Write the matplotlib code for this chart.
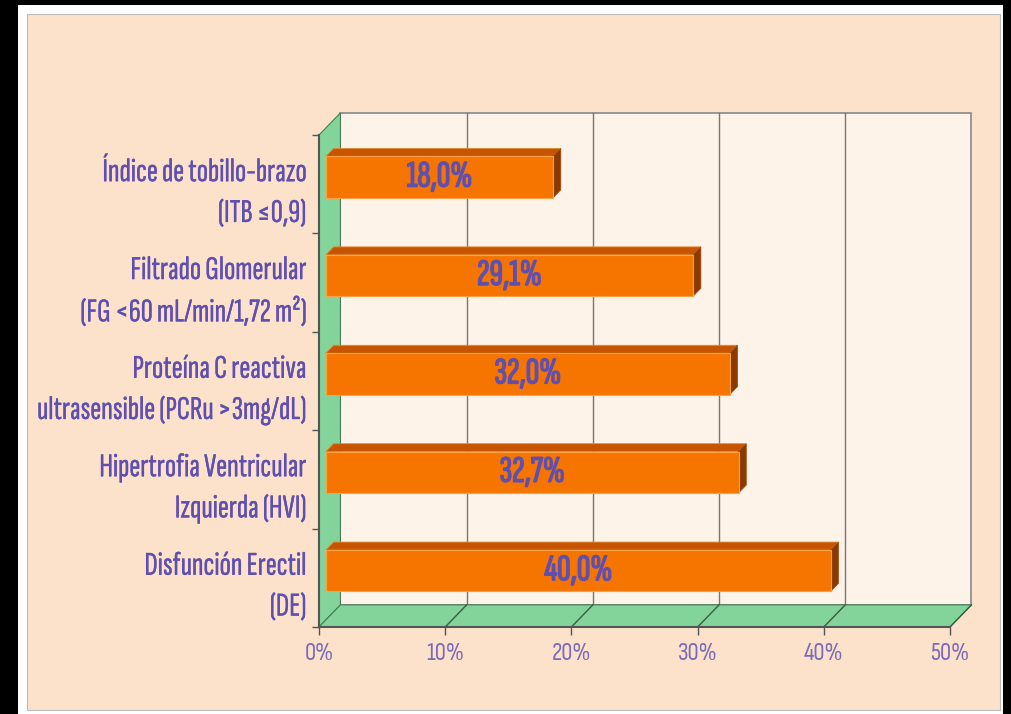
import matplotlib.pyplot as plt
import matplotlib.patheffects as pe
from matplotlib.patches import Polygon, Rectangle

# --- data (bottom to top) ---
categories = [
    "Disfunción Erectil\n(DE)",
    "Hipertrofia Ventricular\nIzquierda (HVI)",
    "Proteína C reactiva\nultrasensible (PCRu >3mg/dL)",
    "Filtrado Glomerular\n(FG <60 mL/min/1,72 m²)",
    "Índice de tobillo-brazo\n(ITB ≤0,9)",
]
values = [40.0, 32.7, 32.0, 29.1, 18.0]
xticks = [0, 10, 20, 30, 40, 50]
xticklabels = ["0%", "10%", "20%", "30%", "40%", "50%"]

# --- style ---
BEIGE = "#fce2ca"
WALL = "#fdf3e8"
GREEN = "#82d49a"
ORANGE = "#f57500"
ORANGE_TOP = "#c75400"
ORANGE_SIDE = "#8a3a00"
TXT = "#5f4fb0"
TICKTXT = "#7a6ab8"
EDGE = "#555555"
LABEL_FONT = ["Sofia Sans Extra Condensed", "DejaVu Sans"]
VALUE_FONT = ["Sofia Sans Extra Condensed", "DejaVu Sans"]
TICK_FONT = ["Sofia Sans Condensed", "DejaVu Sans"]

W, H = 1011, 714
fig = plt.figure(figsize=(W / 100, H / 100), dpi=100)
fig.patch.set_facecolor("black")

# frame: white border then beige panel
fig.patches.append(Rectangle((18 / W, 0), (1003 - 18) / W, 1 - 5 / H,
                             transform=fig.transFigure, facecolor="white",
                             edgecolor="none", zorder=-3))
fig.patches.append(Rectangle((27 / W, 4 / H), (1000 - 27) / W, (710 - 14) / H,
                             transform=fig.transFigure, facecolor=BEIGE,
                             edgecolor="#bbbbbb", lw=0.8, zorder=-2))

# front plane of the 3D chart
x0, x1 = 319, 950
y_bot, y_top = 627, 135
ax = fig.add_axes([x0 / W, 1 - y_bot / H, (x1 - x0) / W, (y_bot - y_top) / H])
ax.set_xlim(0, 50)
ax.set_ylim(0, len(categories))
ax.patch.set_alpha(0)
for s in ax.spines.values():
    s.set_visible(False)

xmax = 50
n = len(categories)
dx, dy = 1.7, 0.225  # depth offset in data units

# back wall
ax.add_patch(Polygon([(dx, dy), (xmax + dx, dy), (xmax + dx, n + dy), (dx, n + dy)],
                     closed=True, facecolor=WALL, edgecolor="#888888", lw=1.2,
                     zorder=1, clip_on=False))
for t in xticks[1:-1]:
    ax.plot([t + dx, t + dx], [dy, n + dy], color="#777777", lw=1, zorder=1.5, clip_on=False)

# left wall
ax.add_patch(Polygon([(0, 0), (dx, dy), (dx, n + dy), (0, n)], closed=True,
                     facecolor=GREEN, edgecolor="#4a7a55", lw=0.8, zorder=2, clip_on=False))
# floor
ax.add_patch(Polygon([(0, 0), (xmax, 0), (xmax + dx, dy), (dx, dy)], closed=True,
                     facecolor=GREEN, edgecolor="#4a7a55", lw=0.8, zorder=2, clip_on=False))
for t in xticks[1:]:
    ax.plot([t, t + dx], [0, dy], color="#3c5c44", lw=1, zorder=2.5, clip_on=False)

# front axis lines
ax.plot([0, xmax], [0, 0], color=EDGE, lw=1.5, zorder=3, clip_on=False)
ax.plot([0, 0], [0, n], color=EDGE, lw=1.5, zorder=3, clip_on=False)

# bars
f1, f2 = 0.32, 0.68
bh = 0.42
for i, v in enumerate(values):
    yb = i + 0.5 - bh / 2
    ox, oy = f1 * dx, f1 * dy
    px, py = (f2 - f1) * dx, (f2 - f1) * dy
    front = [(ox, yb + oy), (v + ox, yb + oy), (v + ox, yb + bh + oy), (ox, yb + bh + oy)]
    top = [(ox, yb + bh + oy), (v + ox, yb + bh + oy),
           (v + ox + px, yb + bh + oy + py), (ox + px, yb + bh + oy + py)]
    side = [(v + ox, yb + oy), (v + ox + px, yb + oy + py),
            (v + ox + px, yb + bh + oy + py), (v + ox, yb + bh + oy)]
    ax.add_patch(Polygon(top, closed=True, facecolor=ORANGE_TOP, edgecolor="#e08a30",
                         lw=0.6, zorder=4, clip_on=False))
    ax.add_patch(Polygon(side, closed=True, facecolor=ORANGE_SIDE, edgecolor="#a04a10",
                         lw=0.6, zorder=4, clip_on=False))
    ax.add_patch(Polygon(front, closed=True, facecolor=ORANGE, edgecolor="#f9a24a",
                         lw=0.8, zorder=5, clip_on=False))
    ax.text(v / 2 + ox, yb + bh / 2 + oy, f"{v:.1f}%".replace(".", ","),
            ha="center", va="center", fontsize=27, fontweight="bold",
            color=TXT, family=VALUE_FONT, zorder=6,
            path_effects=[pe.withStroke(linewidth=1.0, foreground=TXT)])

# ticks and labels
ax.set_xticks(xticks)
ax.set_xticklabels(xticklabels, family=TICK_FONT, fontsize=18, color=TICKTXT)
ax.tick_params(axis="x", length=6, width=1, color=EDGE, pad=5)
ax.set_yticks([i + 0.5 for i in range(n)])
ax.set_yticklabels(categories, family=LABEL_FONT, fontsize=24, color=TXT,
                   linespacing=1.45, ha="right")
for lab in ax.get_yticklabels():
    lab.set_path_effects([pe.withStroke(linewidth=0.2, foreground=TXT)])
ax.tick_params(axis="y", length=0, pad=9)
ax.set_yticks(range(n + 1), minor=True)
ax.tick_params(axis="y", which="minor", length=5, width=1, color=EDGE)

fig.savefig("out.png", dpi=100, facecolor=fig.get_facecolor())
